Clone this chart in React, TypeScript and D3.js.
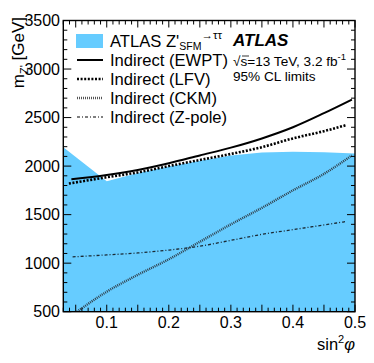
import React from 'react';
import * as d3 from 'd3';

// ATLAS Z'(SFM) -> tautau limit band (upper edge) and indirect limits
const atlasX = [0.03, 0.1, 0.15, 0.2, 0.25, 0.3, 0.35, 0.4, 0.45, 0.5];
const atlasM = [2194, 1845, 1930, 1995, 2055, 2110, 2140, 2148, 2142, 2130];
const ewptX = [0.043, 0.1, 0.15, 0.2, 0.25, 0.3, 0.35, 0.4, 0.45, 0.495];
const ewptM = [1865, 1908, 1960, 2030, 2110, 2190, 2285, 2400, 2545, 2685];
const lfvX = [0.039, 0.1, 0.15, 0.2, 0.25, 0.3, 0.35, 0.4, 0.45, 0.487];
const lfvM = [1820, 1885, 1935, 2000, 2063, 2125, 2195, 2285, 2360, 2424];
const ckmX = [0.052, 0.1, 0.15, 0.2, 0.25, 0.3, 0.35, 0.4, 0.45, 0.495];
const ckmM = [500, 706, 880, 1040, 1220, 1400, 1570, 1750, 1920, 2110];
const zpoleX = [0.045, 0.1, 0.15, 0.2, 0.25, 0.3, 0.35, 0.4, 0.45, 0.484];
const zpoleM = [1065, 1085, 1105, 1135, 1175, 1235, 1297, 1345, 1394, 1427];

const xTicks = [0.1, 0.2, 0.3, 0.4, 0.5];
const yTicks = [500, 1000, 1500, 2000, 2500, 3000, 3500];

const W = 374;
const H = 363;
const m = { left: 63.3, right: 19, top: 20.5, bottom: 51.3 };
const FONT = '"Liberation Sans", Arial, Helvetica, sans-serif';
const FILL = '#66ccff';

const zip = (xs: number[], ys: number[]) => xs.map((x, i) => [x, ys[i]] as [number, number]);

export default function App() {
  const x = d3.scaleLinear().domain([0.03, 0.5]).range([m.left, W - m.right]);
  const y = d3.scaleLinear().domain([500, 3500]).range([H - m.bottom, m.top]);
  const x0 = m.left, x1 = W - m.right, y0 = H - m.bottom, y1 = m.top;

  const line = d3.line<[number, number]>().x(d => x(d[0])).y(d => y(d[1])).curve(d3.curveMonotoneX);
  const area = d3.area<[number, number]>().x(d => x(d[0])).y0(y(500)).y1(d => y(d[1]));

  const xMinor = d3.range(0.03, 0.5001, 0.01).map(v => +v.toFixed(2));
  const yMinor = d3.range(500, 3501, 100);

  const legendRows = [
    { label: 'Indirect (EWPT)', dash: null, width: 2, color: '#000' },
    { label: 'Indirect (LFV)', dash: '2,1.6', width: 2.6, color: '#000' },
    { label: 'Indirect (CKM)', dash: '1,1', width: 2.4, color: '#555' },
    { label: 'Indirect (Z-pole)', dash: '3,2,1,2', width: 1.2, color: '#000' },
  ];

  return (
    <svg width={W} height={H} style={{ position: 'absolute', left: 0, top: 0, background: '#fff' }} fontFamily={FONT}>
      <defs>
        <clipPath id="plot">
          <rect x={x0} y={y1} width={x1 - x0} height={y0 - y1} />
        </clipPath>
      </defs>

      <g clipPath="url(#plot)">
        <path d={area(zip(atlasX, atlasM)) || ''} fill={FILL} />
        <path d={line(zip(ckmX, ckmM)) || ''} fill="none" stroke="#2f3f4a" strokeWidth={2.4} strokeDasharray="1,1" />
        <path d={line(zip(zpoleX, zpoleM)) || ''} fill="none" stroke="#1a2a35" strokeWidth={1.3} strokeDasharray="3,2,1,2" />
        <path d={line(zip(lfvX, lfvM)) || ''} fill="none" stroke="#000" strokeWidth={2.6} strokeDasharray="2,1.6" />
        <path d={line(zip(ewptX, ewptM)) || ''} fill="none" stroke="#000" strokeWidth={2} />
      </g>

      {/* ticks */}
      <g stroke="#000" strokeWidth={1}>
        {xMinor.map(v => {
          const big = Math.abs(v * 20 - Math.round(v * 20)) < 1e-6;
          const len = big ? 7 : 4;
          return (
            <g key={'xt' + v}>
              <line x1={x(v)} x2={x(v)} y1={y0} y2={y0 - len} />
              <line x1={x(v)} x2={x(v)} y1={y1} y2={y1 + len} />
            </g>
          );
        })}
        {yMinor.map(v => {
          const len = v % 500 === 0 ? 8 : 4;
          return (
            <g key={'yt' + v}>
              <line x1={x0} x2={x0 + len} y1={y(v)} y2={y(v)} />
              <line x1={x1} x2={x1 - len} y1={y(v)} y2={y(v)} />
            </g>
          );
        })}
      </g>
      <rect x={x0} y={y1} width={x1 - x0} height={y0 - y1} fill="none" stroke="#000" strokeWidth={1.4} />

      {/* tick labels */}
      <g fontSize={16} fill="#000">
        {xTicks.map(v => (
          <text key={'xl' + v} x={x(v)} y={328} textAnchor="middle">{v.toFixed(1)}</text>
        ))}
        {yTicks.map(v => (
          <text key={'yl' + v} x={60} y={y(v)} dy="0.36em" textAnchor="end">{v}</text>
        ))}
      </g>

      {/* axis titles */}
      <text x={355} y={350} textAnchor="end" fontSize={16.5}>
        sin<tspan fontSize={11} dy={-7}>2</tspan><tspan dy={7} fontStyle="italic">φ</tspan>
      </text>
      <text transform="translate(24,17) rotate(-90)" textAnchor="end" fontSize={17}>
        m<tspan fontSize={11} dy={4}>Z'</tspan><tspan dy={-4}> [GeV]</tspan>
      </text>

      {/* legend */}
      <rect x={76} y={34} width={27} height={14} fill={FILL} />
      <text x={110} y={46.5} fontSize={16.6}>
        ATLAS Z'<tspan fontSize={10.5} dy={3}>SFM</tspan><tspan fontSize={11.5} dy={-11}>→ττ</tspan>
      </text>
      {legendRows.map((r, i) => {
        const cy = 60 + i * 19;
        return (
          <g key={r.label}>
            <line x1={77} x2={103} y1={cy} y2={cy} stroke={r.color} strokeWidth={r.width}
              strokeDasharray={r.dash || undefined} />
            <text x={110} y={cy + 5.5} fontSize={16.6}>{r.label}</text>
          </g>
        );
      })}

      {/* ATLAS label */}
      <text x={233} y={46} fontSize={17} fontWeight="bold" fontStyle="italic">ATLAS</text>
      <text x={233} y={66} fontSize={13.6}>
        √<tspan>s=13 TeV, 3.2 fb</tspan><tspan fontSize={9.5} dy={-6}>-1</tspan>
      </text>
      <line x1={242} x2={249} y1={56} y2={56} stroke="#000" strokeWidth={0.8} />
      <text x={233} y={81} fontSize={13.6}>95% CL limits</text>
    </svg>
  );
}
